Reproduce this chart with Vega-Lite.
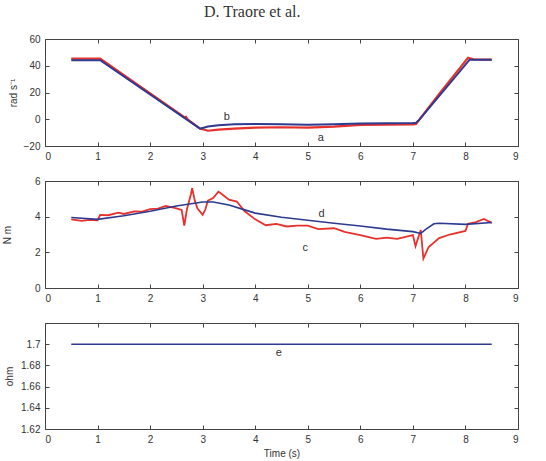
{
  "$schema": "https://vega.github.io/schema/vega-lite/v6.json",
  "autosize": "pad",
  "padding": {"left": 1, "top": 3, "right": 5, "bottom": 2},
  "title": {"text": "D. Traore et al.", "font": "Liberation Serif", "fontSize": 16, "fontWeight": "normal", "color": "#333", "anchor": "middle", "dx": -8, "offset": 14},
  "spacing": 35,
  "bounds": "flush",
  "datasets": {
    "p1": [
      {"s": "a", "t": 0.5, "v": 45.3}, {"s": "a", "t": 1.05, "v": 45.3}, {"s": "a", "t": 2.65, "v": 1.5}, {"s": "a", "t": 2.68, "v": 1.8}, {"s": "a", "t": 2.72, "v": -0.3},
      {"s": "a", "t": 2.95, "v": -7}, {"s": "a", "t": 3.1, "v": -8.6}, {"s": "a", "t": 3.3, "v": -7.8}, {"s": "a", "t": 3.6, "v": -7}, {"s": "a", "t": 4, "v": -6.2},
      {"s": "a", "t": 4.5, "v": -6}, {"s": "a", "t": 5, "v": -6.3}, {"s": "a", "t": 5.5, "v": -5.5}, {"s": "a", "t": 6, "v": -4.2}, {"s": "a", "t": 6.5, "v": -4},
      {"s": "a", "t": 7, "v": -3.9}, {"s": "a", "t": 7.06, "v": -3.5}, {"s": "a", "t": 7.5, "v": 19}, {"s": "a", "t": 8.05, "v": 46}, {"s": "a", "t": 8.15, "v": 44.8}, {"s": "a", "t": 8.5, "v": 44.6},
      {"s": "b", "t": 0.5, "v": 44.2}, {"s": "b", "t": 1.05, "v": 44.2}, {"s": "b", "t": 2.95, "v": -7}, {"s": "b", "t": 3.1, "v": -5.5}, {"s": "b", "t": 3.3, "v": -4.5},
      {"s": "b", "t": 3.6, "v": -3.8}, {"s": "b", "t": 4, "v": -3.6}, {"s": "b", "t": 4.5, "v": -3.8}, {"s": "b", "t": 5, "v": -4.1}, {"s": "b", "t": 5.5, "v": -3.8},
      {"s": "b", "t": 6, "v": -3.2}, {"s": "b", "t": 6.5, "v": -3}, {"s": "b", "t": 7, "v": -2.8}, {"s": "b", "t": 7.06, "v": -2.6}, {"s": "b", "t": 7.12, "v": -0.5},
      {"s": "b", "t": 8.08, "v": 44.5}, {"s": "b", "t": 8.5, "v": 44.4}
    ],
    "p2": [
      {"s": "c", "t": 0.5, "v": 3.85}, {"s": "c", "t": 0.7, "v": 3.76}, {"s": "c", "t": 0.85, "v": 3.82}, {"s": "c", "t": 1.0, "v": 3.8}, {"s": "c", "t": 1.05, "v": 4.1}, {"s": "c", "t": 1.2, "v": 4.08}, {"s": "c", "t": 1.4, "v": 4.22},
      {"s": "c", "t": 1.5, "v": 4.15}, {"s": "c", "t": 1.7, "v": 4.3}, {"s": "c", "t": 1.85, "v": 4.28}, {"s": "c", "t": 2.0, "v": 4.42}, {"s": "c", "t": 2.15, "v": 4.45}, {"s": "c", "t": 2.3, "v": 4.6}, {"s": "c", "t": 2.5, "v": 4.47}, {"s": "c", "t": 2.6, "v": 4.38},
      {"s": "c", "t": 2.65, "v": 3.5}, {"s": "c", "t": 2.7, "v": 4.4}, {"s": "c", "t": 2.78, "v": 5.3}, {"s": "c", "t": 2.8, "v": 5.6}, {"s": "c", "t": 2.85, "v": 4.9},
      {"s": "c", "t": 2.9, "v": 4.47}, {"s": "c", "t": 3.0, "v": 4.1}, {"s": "c", "t": 3.05, "v": 4.4}, {"s": "c", "t": 3.1, "v": 4.9}, {"s": "c", "t": 3.2, "v": 5.04},
      {"s": "c", "t": 3.3, "v": 5.4}, {"s": "c", "t": 3.35, "v": 5.3}, {"s": "c", "t": 3.5, "v": 4.95}, {"s": "c", "t": 3.65, "v": 4.85}, {"s": "c", "t": 3.8, "v": 4.3},
      {"s": "c", "t": 4.0, "v": 3.85}, {"s": "c", "t": 4.2, "v": 3.52}, {"s": "c", "t": 4.4, "v": 3.6}, {"s": "c", "t": 4.6, "v": 3.45}, {"s": "c", "t": 4.8, "v": 3.5}, {"s": "c", "t": 5.0, "v": 3.5},
      {"s": "c", "t": 5.2, "v": 3.3}, {"s": "c", "t": 5.5, "v": 3.35}, {"s": "c", "t": 5.7, "v": 3.15}, {"s": "c", "t": 6.0, "v": 2.97}, {"s": "c", "t": 6.3, "v": 2.75},
      {"s": "c", "t": 6.5, "v": 2.82}, {"s": "c", "t": 6.7, "v": 2.75}, {"s": "c", "t": 6.9, "v": 2.9}, {"s": "c", "t": 7.0, "v": 2.97}, {"s": "c", "t": 7.05, "v": 2.35},
      {"s": "c", "t": 7.1, "v": 2.8}, {"s": "c", "t": 7.15, "v": 3.25}, {"s": "c", "t": 7.2, "v": 1.65}, {"s": "c", "t": 7.3, "v": 2.3}, {"s": "c", "t": 7.5, "v": 2.8},
      {"s": "c", "t": 7.7, "v": 3.0}, {"s": "c", "t": 8.0, "v": 3.2}, {"s": "c", "t": 8.05, "v": 3.6}, {"s": "c", "t": 8.2, "v": 3.7}, {"s": "c", "t": 8.35, "v": 3.87},
      {"s": "c", "t": 8.5, "v": 3.65},
      {"s": "d", "t": 0.5, "v": 3.95}, {"s": "d", "t": 1.0, "v": 3.85}, {"s": "d", "t": 1.5, "v": 4.05}, {"s": "d", "t": 2.0, "v": 4.3}, {"s": "d", "t": 2.5, "v": 4.6},
      {"s": "d", "t": 3.0, "v": 4.82}, {"s": "d", "t": 3.2, "v": 4.82}, {"s": "d", "t": 3.5, "v": 4.65}, {"s": "d", "t": 3.8, "v": 4.38}, {"s": "d", "t": 4.0, "v": 4.2},
      {"s": "d", "t": 4.5, "v": 3.97}, {"s": "d", "t": 5.0, "v": 3.8}, {"s": "d", "t": 5.5, "v": 3.63}, {"s": "d", "t": 6.0, "v": 3.48}, {"s": "d", "t": 6.5, "v": 3.3},
      {"s": "d", "t": 7.0, "v": 3.16}, {"s": "d", "t": 7.15, "v": 3.06}, {"s": "d", "t": 7.25, "v": 3.3}, {"s": "d", "t": 7.4, "v": 3.6}, {"s": "d", "t": 7.5, "v": 3.63},
      {"s": "d", "t": 8.0, "v": 3.57}, {"s": "d", "t": 8.5, "v": 3.67}
    ],
    "p3": [
      {"s": "e", "t": 0.5, "v": 1.7}, {"s": "e", "t": 8.5, "v": 1.7}
    ],
    "l1": [{"label": "a", "t": 5.25, "v": -14}, {"label": "b", "t": 3.46, "v": 1.4}],
    "l2": [{"label": "c", "t": 4.95, "v": 2.22}, {"label": "d", "t": 5.26, "v": 4.15}],
    "l3": [{"label": "e", "t": 4.45, "v": 1.6913}]
  },
  "vconcat": [
    {
      "width": 473, "height": 107,
      "layer": [
        {
          "data": {"name": "p1"},
          "mark": {"type": "line", "clip": true},
          "encoding": {
            "x": {"field": "t", "type": "quantitative", "scale": {"domain": [0, 9], "nice": false}, "axis": {"values": [0,1,2,3,4,5,6,7,8,9], "title": null}},
            "y": {"field": "v", "type": "quantitative", "scale": {"domain": [-20, 60], "nice": false}, "axis": {"values": [-20,0,20,40,60], "title": "rad s⁻¹", "titleX": -32}},
            "color": {"field": "s", "type": "nominal", "scale": {"domain": ["a", "b"], "range": ["#e8302c", "#2e3a8f"]}, "legend": null},
            "strokeWidth": {"field": "s", "type": "nominal", "scale": {"domain": ["a", "b"], "range": [2.2, 1.6]}, "legend": null}
          }
        },
        {
          "data": {"name": "l1"},
          "mark": {"type": "text", "font": "Liberation Sans", "fontSize": 11, "color": "#333"},
          "encoding": {
            "x": {"field": "t", "type": "quantitative", "axis": {"orient": "top", "values": [0,1,2,3,4,5,6,7,8,9], "labels": false, "title": null}},
            "y": {"field": "v", "type": "quantitative", "axis": {"orient": "right", "values": [-20,0,20,40,60], "labels": false, "title": null}},
            "text": {"field": "label"}
          }
        }
      ],
      "resolve": {"axis": {"x": "independent", "y": "independent"}}
    },
    {
      "width": 473, "height": 107,
      "layer": [
        {
          "data": {"name": "p2"},
          "mark": {"type": "line", "clip": true},
          "encoding": {
            "x": {"field": "t", "type": "quantitative", "scale": {"domain": [0, 9], "nice": false}, "axis": {"values": [0,1,2,3,4,5,6,7,8,9], "title": null}},
            "y": {"field": "v", "type": "quantitative", "scale": {"domain": [0, 6], "nice": false}, "axis": {"values": [0,2,4,6], "title": "N m", "titleX": -38}},
            "color": {"field": "s", "type": "nominal", "scale": {"domain": ["c", "d"], "range": ["#e8302c", "#2e3a8f"]}, "legend": null},
            "strokeWidth": {"field": "s", "type": "nominal", "scale": {"domain": ["c", "d"], "range": [2.6, 1.6]}, "legend": null}
          }
        },
        {
          "data": {"name": "l2"},
          "mark": {"type": "text", "font": "Liberation Sans", "fontSize": 11, "color": "#333"},
          "encoding": {
            "x": {"field": "t", "type": "quantitative", "axis": {"orient": "top", "values": [0,1,2,3,4,5,6,7,8,9], "labels": false, "title": null}},
            "y": {"field": "v", "type": "quantitative", "axis": {"orient": "right", "values": [0,2,4,6], "labels": false, "title": null}},
            "text": {"field": "label"}
          }
        }
      ],
      "resolve": {"axis": {"x": "independent", "y": "independent"}}
    },
    {
      "width": 473, "height": 106,
      "layer": [
        {
          "data": {"name": "p3"},
          "mark": {"type": "line", "clip": true},
          "encoding": {
            "x": {"field": "t", "type": "quantitative", "scale": {"domain": [0, 9], "nice": false}, "axis": {"values": [0,1,2,3,4,5,6,7,8,9], "title": "Time (s)"}},
            "y": {"field": "v", "type": "quantitative", "scale": {"domain": [1.62, 1.72], "nice": false, "zero": false}, "axis": {"values": [1.62,1.64,1.66,1.68,1.7], "format": "~g", "title": "ohm", "titleX": -36}},
            "color": {"value": "#2e3a8f"},
            "strokeWidth": {"value": 1.6}
          }
        },
        {
          "data": {"name": "l3"},
          "mark": {"type": "text", "font": "Liberation Sans", "fontSize": 11, "color": "#333"},
          "encoding": {
            "x": {"field": "t", "type": "quantitative", "axis": {"orient": "top", "values": [0,1,2,3,4,5,6,7,8,9], "labels": false, "title": null}},
            "y": {"field": "v", "type": "quantitative", "axis": {"orient": "right", "values": [1.62,1.64,1.66,1.68,1.7], "labels": false, "title": null}},
            "text": {"field": "label"}
          }
        }
      ],
      "resolve": {"axis": {"x": "independent", "y": "independent"}}
    }
  ],
  "config": {
    "view": {"stroke": "#444", "strokeWidth": 1},
    "axis": {
      "labelFont": "Liberation Sans", "labelFontSize": 10, "labelColor": "#333",
      "titleFont": "Liberation Sans", "titleFontSize": 10, "titleFontWeight": "normal", "titleColor": "#333",
      "tickColor": "#444", "tickSize": -4, "labelPadding": 9, "domain": false, "grid": false
    },
    "axisY": {"titleBaseline": "middle"},
    "axisX": {"titlePadding": 4}
  }
}
